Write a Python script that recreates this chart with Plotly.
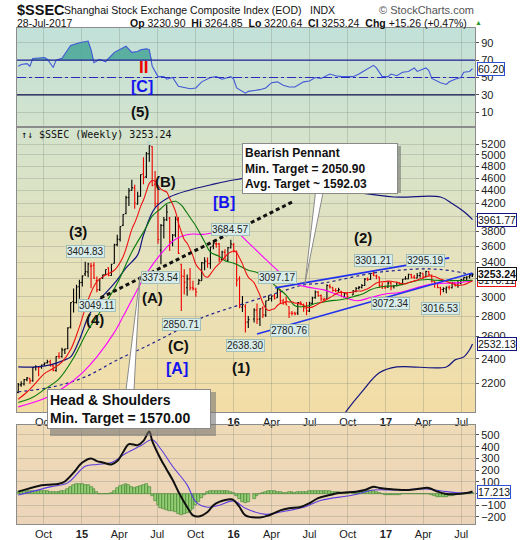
import numpy as np
import pandas as pd
import plotly.graph_objects as go
from plotly.subplots import make_subplots

# weekly bars (Fridays) Aug 2014 - Jul 2017, the two weeks with no trading dropped
week_dates = pd.date_range('2014-08-01', '2017-07-28', freq='W-FRI')
week_dates = week_dates.drop(pd.to_datetime(['2016-02-12', '2016-10-07']))

week_open = [
    2127, 2185, 2192, 2227, 2238, 2218, 2328, 2330, 2330, 2349,
    2365, 2375, 2340, 2301, 2421, 2420, 2478, 2490, 2690, 2950,
    2940, 3110, 3160, 3258, 3280, 3350, 3360, 3180, 3077, 3215,
    3250, 3330, 3240, 3385, 3620, 3690, 3880, 4050, 4290, 4400,
    4440, 4190, 4310, 4670, 4620, 5020, 5150, 4500, 4200, 3550,
    3880, 3960, 3985, 3650, 3750, 3950, 3373, 3230, 3100, 3200,
    3100, 3080, 3140, 3180, 3390, 3410, 3380, 3600, 3630, 3630,
    3430, 3520, 3420, 3580, 3620, 3536, 3200, 2890, 2900, 2740,
    2770, 2860, 2770, 2880, 2810, 2960, 2980, 3010, 2990, 3070,
    2955, 2935, 2895, 2830, 2830, 2830, 2940, 2910, 2880, 2850,
    2930, 2990, 3050, 3013, 2970, 2976, 3120, 3100, 3070, 3068,
    3060, 3000, 3035, 3020, 3060, 3095, 3105, 3125, 3200, 3195,
    3265, 3230, 3220, 3120, 3110, 3105, 3155, 3110, 3125, 3155,
    3135, 3200, 3200, 3250, 3220, 3210, 3240, 3265, 3225, 3285,
    3245, 3170, 3150, 3100, 3080, 3085, 3105, 3100, 3155, 3125,
    3150, 3190, 3215, 3225, 3230.90]
week_high = [
    2200, 2213, 2232, 2248, 2240, 2330, 2345, 2334, 2352, 2368,
    2391, 2392, 2350, 2423, 2457, 2497, 2490, 2688, 2941, 3091,
    3132, 3190, 3239, 3404.83, 3390, 3390, 3398, 3227, 3206, 3247,
    3311, 3337, 3380, 3633, 3750, 3865, 4040, 4317, 4439, 4572,
    4490, 4380, 4658, 4959, 5052, 5178.19, 5164, 4720, 4420, 3900,
    4000, 4184, 4000, 3760, 4006, 4000, 3380, 3314, 3250, 3327,
    3180, 3100, 3200, 3400, 3458, 3456, 3596, 3678, 3650, 3640,
    3540, 3560, 3590, 3684.57, 3640, 3540, 3230, 3010, 2920, 2800,
    2880, 2930, 2880, 2900, 2960, 3017, 3015, 3030, 3097.17, 3082,
    2980, 3003, 2900, 2850, 2842, 2945, 2952, 2930, 2945, 2948,
    3000, 3070, 3063, 3026, 2990, 3140, 3140, 3110, 3095, 3100,
    3062, 3050, 3045, 3075, 3107, 3120, 3143, 3210, 3216, 3264,
    3301.21, 3250, 3226, 3160, 3126, 3172, 3174, 3130, 3165, 3160,
    3200, 3230, 3260, 3260, 3245, 3270, 3280, 3270, 3295.19, 3290,
    3250, 3180, 3155, 3110, 3105, 3115, 3125, 3160, 3160, 3185,
    3195, 3220, 3230, 3248, 3264.85]
week_low = [
    2120, 2170, 2180, 2213, 2195, 2210, 2302, 2255, 2315, 2340,
    2360, 2335, 2296, 2290, 2400, 2410, 2441, 2485, 2678, 2835,
    2930, 2980, 3115, 3234, 3220, 3095, 3200, 3049.11, 3063, 3200,
    3246, 3230, 3235, 3380, 3600, 3660, 3870, 4040, 4160, 4400,
    4120, 4180, 4300, 4500, 4600, 4880, 4465, 4140, 3630, 3373.54,
    3700, 3940, 3537, 3600, 3716, 3500, 2850.71, 3025, 3011, 3070,
    3070, 3000, 3140, 3180, 3300, 3332, 3320, 3560, 3580, 3400,
    3420, 3430, 3410, 3570, 3520, 3115, 2880, 2840, 2638.30, 2682,
    2735, 2720, 2700, 2780, 2790, 2960, 2950, 2970, 2990, 2930,
    2915, 2910, 2780.76, 2806, 2807, 2810, 2910, 2842, 2807, 2840,
    2920, 2980, 3000, 2950, 2950, 2970, 3090, 3055, 3050, 3055,
    2995, 2997, 2970, 3020, 3050, 3080, 3090, 3120, 3175, 3190,
    3230, 3195, 3100, 3085, 3085, 3100, 3072.34, 3090, 3115, 3130,
    3130, 3190, 3195, 3205, 3200, 3205, 3215, 3200, 3220, 3240,
    3160, 3100, 3095, 3016.53, 3050, 3040, 3080, 3090, 3115, 3100,
    3140, 3170, 3180, 3205, 3220.64]
week_close = [
    2185.30, 2194.42, 2226.73, 2240.81, 2217.20, 2326.43, 2331.95, 2329.45, 2347.72, 2363.87,
    2374.54, 2341.18, 2302.28, 2420.18, 2418.17, 2478.82, 2486.79, 2682.83, 2937.65, 2938.17,
    3108.60, 3157.60, 3234.68, 3285.41, 3376.50, 3351.76, 3210.36, 3075.91, 3203.83, 3246.91,
    3310.30, 3241.19, 3372.91, 3617.32, 3691.10, 3863.93, 4034.31, 4287.30, 4393.69, 4441.66,
    4205.92, 4308.69, 4657.60, 4611.74, 5023.10, 5166.35, 4478.36, 4192.87, 3686.92, 3877.80,
    3957.35, 4070.91, 3663.73, 3744.20, 3965.33, 3507.74, 3232.35, 3160.17, 3200.23, 3097.92,
    3092.35, 3052.78, 3183.15, 3391.35, 3412.43, 3382.56, 3590.03, 3632.90, 3630.50, 3436.30,
    3524.99, 3434.58, 3578.96, 3627.91, 3539.18, 3186.41, 2900.97, 2916.56, 2737.60, 2763.49,
    2860.02, 2767.21, 2874.15, 2810.31, 2955.15, 2979.43, 3009.53, 2984.96, 3078.12, 2959.24,
    2938.32, 2913.25, 2827.11, 2825.48, 2821.05, 2938.68, 2927.16, 2885.11, 2854.29, 2932.48,
    2988.09, 3054.30, 3012.82, 2979.34, 2976.70, 3125.20, 3108.10, 3070.31, 3067.35, 3078.85,
    3002.85, 3033.90, 3004.70, 3063.81, 3090.94, 3104.27, 3125.32, 3196.04, 3192.86, 3261.94,
    3243.84, 3232.88, 3122.98, 3110.15, 3103.64, 3154.32, 3112.76, 3123.14, 3159.17, 3140.17,
    3196.70, 3202.08, 3253.43, 3218.31, 3212.76, 3237.45, 3269.45, 3222.51, 3286.62, 3246.07,
    3173.15, 3154.66, 3103.04, 3083.51, 3090.63, 3107.83, 3105.54, 3158.40, 3123.17, 3157.87,
    3192.43, 3217.96, 3222.42, 3237.98, 3253.24]

# overlays, as (bar number, value)
sma10_idx = [1, 4, 7, 10, 13, 16, 19, 22, 25, 28, 31, 34, 37, 40, 41, 42, 43, 44, 45] + list(range(46, 156))
sma10_val = [2075, 2130, 2200, 2276, 2318, 2371, 2481, 2693, 2969, 3168, 3245, 3301, 3466, 3825, 3915, 4022, 4150, 4250, 4383,
             4513, 4558, 4548, 4477, 4421, 4396, 4372, 4273, 4186, 4080,
             3915, 3790, 3687, 3638, 3560, 3473, 3372, 3324, 3288, 3233,
             3220, 3256, 3304, 3347, 3380, 3424, 3462, 3502, 3525, 3538,
             3518, 3449, 3378, 3288, 3221, 3155, 3088, 3017, 2936, 2877,
             2856, 2867, 2874, 2908, 2928, 2936, 2950, 2945, 2947, 2934,
             2930, 2921, 2911, 2889, 2886, 2891, 2905, 2924, 2939, 2955,
             2973, 2992, 3010, 3031, 3046, 3048, 3046, 3045, 3053, 3065,
             3063, 3064, 3077, 3089, 3108, 3132, 3152, 3164, 3168, 3169,
             3174, 3173, 3166, 3163, 3150, 3146, 3143, 3156, 3166, 3177,
             3186, 3201, 3211, 3224, 3235, 3232, 3227, 3212, 3199, 3187,
             3174, 3158, 3151, 3135, 3126, 3128, 3134, 3146, 3161, 3178]
sma20_idx = [1, 6, 10, 15, 20, 25, 30, 35, 40, 45, 47, 50, 52, 53, 55, 57, 58, 60, 62, 65, 67, 70, 72, 75, 77, 80,
             82, 85, 87, 90, 92, 95, 97, 100, 102, 105, 107, 110, 112, 115, 117, 120, 122, 125, 127, 130, 132, 135,
             137, 140, 142, 145, 147, 150, 152, 155]
sma20_val = [2051, 2090, 2150, 2233, 2407, 2662, 2882, 3150, 3525, 3857, 4012, 4123, 4197, 4212, 4232, 4174, 4118,
             3991, 3872, 3657, 3523, 3470, 3417, 3386, 3353, 3301, 3275, 3207, 3158, 3074, 3019, 2905, 2894, 2907,
             2928, 2945, 2957, 2966, 2976, 3010, 3028, 3077, 3099, 3117, 3119, 3129, 3148, 3173, 3187, 3193, 3185,
             3182, 3180, 3181, 3181, 3183]
sma40_idx = [1, 10, 17, 23, 28, 34, 37, 40, 45, 50, 55, 60, 65, 70, 75, 80, 85, 90, 95, 100, 105, 110, 115, 120, 125,
             130, 135, 140, 145, 150, 155]
sma40_val = [2019, 2080, 2170, 2282, 2417, 2640, 2795, 2966, 3260, 3502, 3691, 3758, 3757, 3797, 3809, 3646, 3432,
             3272, 3146, 3104, 3076, 3020, 2958, 2992, 3031, 3048, 3092, 3135, 3150, 3155, 3178]
upper_idx = [1, 7, 12, 17, 19, 22, 25, 28, 32, 35, 38, 42, 44, 48, 53, 60, 67, 75, 81, 93, 110, 128, 144, 148, 152, 155]
upper_val = [2331, 2331, 2348, 2391, 2417, 2569, 2791, 2935, 3076, 3188, 3329, 3489, 3748, 4131, 4297, 4407, 4487,
             4568, 4601, 4500, 4407, 4297, 4297, 4198, 4078, 3961.77]
middle_idx = [1, 13, 24, 35, 46, 56, 64, 77, 89, 98, 105, 121, 131, 140, 148, 155]
middle_val = [2131, 2170, 2249, 2391, 2524, 2664, 2781, 2914, 3043, 3131, 3154, 3269, 3305, 3318, 3293, 3246]
lower_idx = [108, 113, 117, 123, 129, 146, 149, 152, 154, 155]
lower_val = [1850, 1997, 2131, 2282, 2331, 2331, 2391, 2417, 2480, 2532.13]

# RSI(14)
rsi_idx = [1, 2, 4, 5, 6, 10, 11, 13, 14, 16, 18, 19, 22, 25, 26, 27, 29, 31, 34, 37, 38, 40, 42, 43, 45, 46, 47, 49,
           51, 52, 54, 56, 60, 62, 64, 67, 69, 71, 74, 75, 76, 79, 80, 83, 85, 87, 89, 91, 93, 95, 98, 100, 102, 104,
           107, 109, 111, 114, 116, 118, 121, 122, 124, 126, 127, 129, 131, 133, 135, 136, 139, 140, 141, 144, 146,
           147, 149, 151, 152, 154, 155]
rsi_val = [63, 65, 66, 63, 72, 73, 71, 61.5, 70, 72, 82, 87, 90, 92, 82, 67, 71, 68, 79, 85, 86, 79, 80, 82, 83, 82,
           63, 51, 51, 48, 50, 40, 37, 38, 45, 50, 51, 48, 51, 48, 38, 32, 34, 36, 38, 44, 45, 41, 39, 39, 45, 46, 50,
           49, 54, 52, 51, 51, 54, 58, 64, 61, 51, 51, 54, 52, 56, 57, 61, 57, 61, 58, 49, 44, 42, 45, 48, 50, 56, 57,
           60.2]

# MACD(12,26,9)
macd_idx = [1, 8, 11, 15, 17, 20, 23, 26, 28, 30, 33, 35, 37, 39, 42, 44, 46, 47, 50, 52, 54, 56, 59, 61, 63, 66, 68,
            70, 74, 75, 77, 79, 83, 86, 90, 93, 97, 100, 103, 107, 110, 115, 118, 121, 123, 126, 132, 136, 140, 143,
            146, 150, 153, 155]
macd_val = [16, 65, 74, 83, 103, 178, 265, 300, 277, 265, 248, 277, 352, 422, 413, 450, 529, 450, 291, 204, 117, 16,
            -115, -187, -196, -158, -100, -71, -48, -57, -115, -187, -204, -187, -144, -126, -115, -83, -39, -13, 4,
            16, 30, 57, 48, 39, 30, 39, 48, 16, -4, -4, 4, 17.213]
signal_idx = [1, 12, 18, 24, 28, 33, 38, 43, 47, 50, 54, 59, 62, 66, 70, 75, 79, 85, 90, 98, 104, 114, 121, 129, 139,
              146, 152, 155]
signal_val = [-13, 57, 91, 233, 248, 265, 344, 407, 459, 378, 233, 74, -71, -117, -100, -63, -126, -178, -158, -117,
              -57, -13, 30, 30, 39, 16, 4, 10]
hist_val = [
    15, 18, 20, 20, 18, 22, 22, 20, 20, 22,
    20, 15, 10, 15, 15, 18, 20, 40, 60, 72,
    78, 80, 78, 75, 70, 60, 40, 15, 0, -5,
    -8, -5, 5, 25, 45, 62, 70, 80, 75, 55,
    50, 60, 65, 70, 80, 60, -20, -60, -100, -120,
    -130, -140, -145, -150, -160, -175, -185, -175, -165, -150,
    -130, -100, -70, -40, -15, 10, 18, 20, 20, 18,
    20, 20, 18, 15, 5, -20, -50, -70, -80, -75,
    -50, -25, -5, 5, 15, 20, 22, 20, 15, 12,
    8, 8, 10, 10, 8, 10, 12, 12, 15, 20,
    22, 25, 25, 22, 20, 20, 18, 15, 12, 10,
    8, 5, 5, 8, 10, 12, 18, 22, 25, 25,
    20, 15, 5, -5, -10, -12, -12, -12, -10, -10,
    -8, -8, -5, -3, -3, -3, -5, -5, -8, -8,
    -15, -22, -28, -30, -30, -28, -22, -18, -12, -8,
    -3, 0, 3, 5, 6]

# labelled highs / lows (bar number, value)
mark_idx = [24, 28, 50, 57, 74, 79, 89, 93, 121, 127, 139, 144]
mark_val = [3404.83, 3049.11, 3373.54, 2850.71, 3684.57, 2638.30, 3097.17, 2780.76, 3301.21, 3072.34, 3295.19, 3016.53]

# drawn trend lines
neck_dates = ['2015-02-15', '2016-05-26']
neck_vals = [2988, 4237]
pennant_top_dates = ['2016-04-10', '2017-06-02']
pennant_top_vals = [3098, 3451]
pennant_bot_dates = ['2016-02-26', '2017-07-28']
pennant_bot_vals = [2625, 3269]

tick_dates = pd.to_datetime(['2014-10-01', '2015-01-01', '2015-04-01', '2015-07-01', '2015-10-01', '2016-01-01',
                             '2016-04-01', '2016-07-01', '2016-10-01', '2017-01-01', '2017-04-01', '2017-07-01'])
tick_text = ['Oct', '<b>15</b>', 'Apr', 'Jul', 'Oct', '<b>16</b>', 'Apr', 'Jul', 'Oct', '<b>17</b>', 'Apr', 'Jul']


def bars(idx):
    return [week_dates[i - 1] for i in idx]


# page pixel -> paper coords (plot area is x 17..475, y 28..524)
def px(x, y):
    return (x - 17) / 458, (524 - y) / 496


fig = make_subplots(rows=3, cols=1, shared_xaxes=True, vertical_spacing=0)

# RSI panel
rx = bars(rsi_idx)
fig.add_trace(go.Scatter(x=rx, y=[70] * len(rx), mode='lines', line=dict(width=0), hoverinfo='skip'), row=1, col=1)
fig.add_trace(go.Scatter(x=rx, y=[max(v, 70) for v in rsi_val], mode='lines', line=dict(width=0),
                         fill='tonexty', fillcolor='rgba(70,166,150,0.85)'), row=1, col=1)
fig.add_trace(go.Scatter(x=rx, y=rsi_val, mode='lines', line=dict(color='#4258d6', width=1.1)), row=1, col=1)

# price panel overlays
fig.add_trace(go.Scatter(x=bars(middle_idx), y=middle_val, mode='lines', line_shape='spline',
                         line=dict(color='#23238f', width=1.2, dash='dot')), row=2, col=1)
fig.add_trace(go.Scatter(x=bars(upper_idx), y=upper_val, mode='lines', line_shape='spline',
                         line=dict(color='#14147f', width=1.2)), row=2, col=1)
fig.add_trace(go.Scatter(x=bars(lower_idx), y=lower_val, mode='lines', line_shape='spline',
                         line=dict(color='#14147f', width=1.2)), row=2, col=1)
fig.add_trace(go.Scatter(x=bars(sma40_idx), y=sma40_val, mode='lines', line_shape='spline',
                         line=dict(color='#ff00ff', width=1.1)), row=2, col=1)
fig.add_trace(go.Scatter(x=bars(sma20_idx), y=sma20_val, mode='lines', line_shape='spline',
                         line=dict(color='#0a7a0a', width=1.1)), row=2, col=1)
fig.add_trace(go.Scatter(x=bars(sma10_idx), y=sma10_val, mode='lines', line_shape='spline',
                         line=dict(color='#ee1111', width=1.1)), row=2, col=1)
fig.add_trace(go.Scatter(x=pd.to_datetime(pennant_top_dates), y=pennant_top_vals, mode='lines',
                         line=dict(color='#2233ee', width=1.6)), row=2, col=1)
fig.add_trace(go.Scatter(x=pd.to_datetime(pennant_bot_dates), y=pennant_bot_vals, mode='lines',
                         line=dict(color='#2233ee', width=1.6)), row=2, col=1)
fig.add_trace(go.Scatter(x=pd.to_datetime(neck_dates), y=neck_vals, mode='lines',
                         line=dict(color='#111111', width=3, dash='4px,3px')), row=2, col=1)

# OHLC bars: black when the close is up on the week, red when down
prev_close = [week_open[0]] + week_close[:-1]
up = [i for i in range(len(week_close)) if week_close[i] >= prev_close[i]]
dn = [i for i in range(len(week_close)) if week_close[i] < prev_close[i]]
for sel, col in ((up, '#000000'), (dn, '#ee0000')):
    fig.add_trace(go.Ohlc(x=week_dates[sel],
                          open=[week_open[i] for i in sel], high=[week_high[i] for i in sel],
                          low=[week_low[i] for i in sel], close=[week_close[i] for i in sel],
                          increasing_line_color=col, decreasing_line_color=col,
                          line_width=1.1, tickwidth=0.4, hoverinfo='skip'), row=2, col=1)

# MACD panel
fig.add_trace(go.Bar(x=week_dates, y=hist_val, marker=dict(color='#93cd72', line=dict(color='#3d7f30', width=0.6))),
              row=3, col=1)
fig.add_trace(go.Scatter(x=bars(signal_idx), y=signal_val, mode='lines', line_shape='spline',
                         line=dict(color='#5a3ce0', width=1.1)), row=3, col=1)
fig.add_trace(go.Scatter(x=bars(macd_idx), y=macd_val, mode='lines', line_shape='spline',
                         line=dict(color='#111111', width=2)), row=3, col=1)

# background gradient strips
shapes = []


def gradient(stops, n):
    top, bot = stops[0][0], stops[-1][0]
    for k in range(n):
        y0 = top + (bot - top) * k / n
        y1 = top + (bot - top) * (k + 1) / n
        ym = (y0 + y1) / 2
        for (p0, c0), (p1, c1) in zip(stops[:-1], stops[1:]):
            if p0 <= ym <= p1:
                t = (ym - p0) / (p1 - p0)
                c = tuple(int(round(a + (b - a) * t)) for a, b in zip(c0, c1))
        shapes.append(dict(type='rect', xref='paper', yref='paper', x0=0, x1=1,
                           y0=(524 - y1 - 0.6) / 496, y1=(524 - y0) / 496,
                           fillcolor='rgb(%d,%d,%d)' % c, line_width=0, layer='below'))


gradient([(28, (194, 225, 217)), (127, (211, 227, 205)), (270, (231, 226, 187)), (412, (243, 221, 166))], 96)
gradient([(425, (239, 219, 183)), (524, (236, 212, 184))], 20)

# RSI reference lines
shapes.append(dict(type='line', xref='x domain', yref='y', x0=0, x1=1, y0=70, y1=70, line=dict(color='#25259a', width=1.2)))
shapes.append(dict(type='line', xref='x domain', yref='y', x0=0, x1=1, y0=30, y1=30, line=dict(color='#101050', width=1.2)))
shapes.append(dict(type='line', xref='x domain', yref='y', x0=0, x1=1, y0=50, y1=50,
                   line=dict(color='#2a2ac0', width=1, dash='dashdot')))

# callout boxes: shadows and pointer wedges
for (ax0, ay0, ax1, ay1) in ((245, 146, 401, 193), (50, 392, 216, 436)):
    p0 = px(ax0, ay1)
    p1 = px(ax1, ay0)
    shapes.append(dict(type='rect', xref='paper', yref='paper', x0=p0[0], y0=p0[1], x1=p1[0], y1=p1[1],
                       fillcolor='rgba(110,110,110,0.55)', line_width=0, layer='above'))
for pts in (((316, 188), (324, 188), (305, 283)), ((126, 390), (134, 390), (140, 276))):
    q = [px(*p) for p in pts]
    path = 'M %f %f L %f %f L %f %f Z' % (q[0][0], q[0][1], q[2][0], q[2][1], q[1][0], q[1][1])
    shapes.append(dict(type='path', xref='paper', yref='paper', path=path, fillcolor='white',
                       line=dict(color='#8a8a8a', width=1), layer='above'))

ann = []


def page_text(text, x, y, size=11, color='#222', anchor='left', bold=False, family=None, **kw):
    p = px(x, y)
    f = dict(size=size, color=color)
    if family:
        f['family'] = family
    ann.append(dict(xref='paper', yref='paper', x=p[0], y=p[1], xanchor=anchor, yanchor='middle',
                    text='<b>%s</b>' % text if bold else text, showarrow=False, font=f, **kw))


# header
page_text('$SSEC', 15, 10, size=14.5, color='#111', bold=True, family='Liberation Sans Narrow, Liberation Sans')
page_text('Shanghai Stock Exchange Composite Index (EOD)', 62, 10, size=10.5, color='#111')
page_text('INDX', 308, 10, size=10.5, color='#111')
page_text('\u00a9 StockCharts.com', 476, 10, size=11, color='#555', anchor='right')
page_text('28-Jul-2017', 15, 22.5, size=10.5, color='#111')
page_text('<b>Op</b> 3230.90  <b>Hi</b> 3264.85  <b>Lo</b> 3220.64  <b>Cl</b> 3253.24  <b>Chg</b> +15.26 (+0.47%)',
          469, 22.5, size=10.5, color='#111', anchor='right')
page_text('\u25b2', 473, 22.5, size=7, color='#2a9a2a')

# legend line of the price panel
page_text('\u2191\u2193 $SSEC (Weekly) 3253.24', 19, 134, size=10, color='#111', family='DejaVu Sans Mono')
page_text('\u25bc', 148, 142, size=7, color='#bcd8d2', anchor='center')

# Elliott wave labels
for t, x, y in (('(3)', 78, 232), ('(4)', 95, 320), ('(B)', 165, 182), ('(A)', 152, 297), ('(C)', 178, 345),
                ('(1)', 241, 367), ('(2)', 363, 238), ('(5)', 140, 111)):
    page_text(t, x, y, size=15, color='#111', anchor='center', bold=True)
for t, x, y in (('[B]', 224, 202), ('[A]', 177, 368), ('[C]', 142, 86)):
    page_text(t, x, y, size=16, color='#1414ee', anchor='center', bold=True)
page_text('II', 143, 67, size=17, color='#ee0000', anchor='center', bold=True)

# callout boxes
bp = px(242, 143)
ann.append(dict(xref='paper', yref='paper', x=bp[0], y=bp[1], xanchor='left', yanchor='top', showarrow=False,
                text='<b>Bearish Pennant</b><br><b>Min. Target = 2050.90</b><br><b>Avg. Target ~ 1592.03</b>',
                align='left', width=150, bgcolor='white', bordercolor='#8a8a8a', borderwidth=1, borderpad=2,
                font=dict(size=12, color='#111')))
hs = px(47, 389)
ann.append(dict(xref='paper', yref='paper', x=hs[0], y=hs[1], xanchor='left', yanchor='top', showarrow=False,
                text='<b>Head & Shoulders</b><br><b>Min. Target = 1570.00</b>',
                align='left', width=158, bgcolor='white', bordercolor='#8a8a8a', borderwidth=1, borderpad=2,
                font=dict(size=14, color='#111')))

# value tags on highs and lows
for i, v in zip(mark_idx, mark_val):
    above = abs(week_high[i - 1] - v) < 0.01
    ann.append(dict(xref='x2', yref='y2', x=week_dates[i - 1], y=np.log10(v), text='%.2f' % v, showarrow=False,
                    yshift=10 if above else -13, bgcolor='#d8ede9', bordercolor='#a2bfb9', borderwidth=1,
                    borderpad=0, font=dict(size=10, color='#222')))

# last-value tags on the right axis
for t, yref, y, col in (('60.20', 'y', 60.2, '#3050d0'),
                        ('3961.77', 'y2', np.log10(3961.77), '#14147f'),
                        ('3178.11', 'y2', np.log10(3185), '#ee1111'),
                        ('<b>3253.24</b>', 'y2', np.log10(3253.24), '#111111'),
                        ('2532.13', 'y2', np.log10(2532.13), '#14147f'),
                        ('17.213', 'y3', 17.213, '#3050d0')):
    ann.append(dict(xref='paper', yref=yref, x=1, y=y, xanchor='left', yanchor='middle', xshift=2, text=t,
                    showarrow=False, bgcolor='white', bordercolor=col, borderwidth=1, borderpad=0,
                    font=dict(size=10.5, color='#111')))

grid = 'rgba(120,125,115,0.28)'
fig.update_layout(width=520, height=540, margin=dict(l=17, r=45, t=28, b=16, autoexpand=False),
                  paper_bgcolor='white', plot_bgcolor='rgba(0,0,0,0)', showlegend=False, bargap=0,
                  font=dict(family='Liberation Sans, Arial, sans-serif', size=11, color='#222'),
                  shapes=shapes, annotations=ann)
for r in (1, 2, 3):
    fig.update_xaxes(row=r, col=1, range=['2014-07-29', '2017-08-03'], tickvals=tick_dates, ticktext=tick_text,
                     showgrid=True, gridcolor=grid, showline=True, mirror=True, linecolor='#8c8c8c', ticks='',
                     rangeslider_visible=False, automargin=False, tickfont=dict(size=11, color='#222'))
fig.update_xaxes(row=1, col=1, showticklabels=False)
fig.update_xaxes(row=2, col=1, showticklabels=True)
fig.update_xaxes(row=3, col=1, showticklabels=True)

axis_style = dict(side='right', showgrid=True, gridcolor=grid, showline=True, mirror=True, linecolor='#8c8c8c',
                  ticks='outside', ticklen=3, tickcolor='#555', tickformat='d', zeroline=False, automargin=False,
                  tickfont=dict(size=11, color='#222'))
fig.update_yaxes(row=1, col=1, domain=[0.8004, 1], range=[-7, 107], tickvals=[10, 30, 50, 70, 90], **axis_style)
fig.update_yaxes(row=2, col=1, domain=[0.2258, 0.8004], type='log', range=[np.log10(1982), np.log10(5528)],
                 tickvals=list(range(2200, 5400, 200)), **axis_style)
fig.update_yaxes(row=3, col=1, domain=[0, 0.1996], range=[-260, 585], tickvals=list(range(-200, 600, 100)),
                 **axis_style)

# the page has a default body margin; drop it so the figure sits at the window's corner
fig.write_html("out.html", config={'displayModeBar': False},
               post_script="document.body.style.margin='0px';")
